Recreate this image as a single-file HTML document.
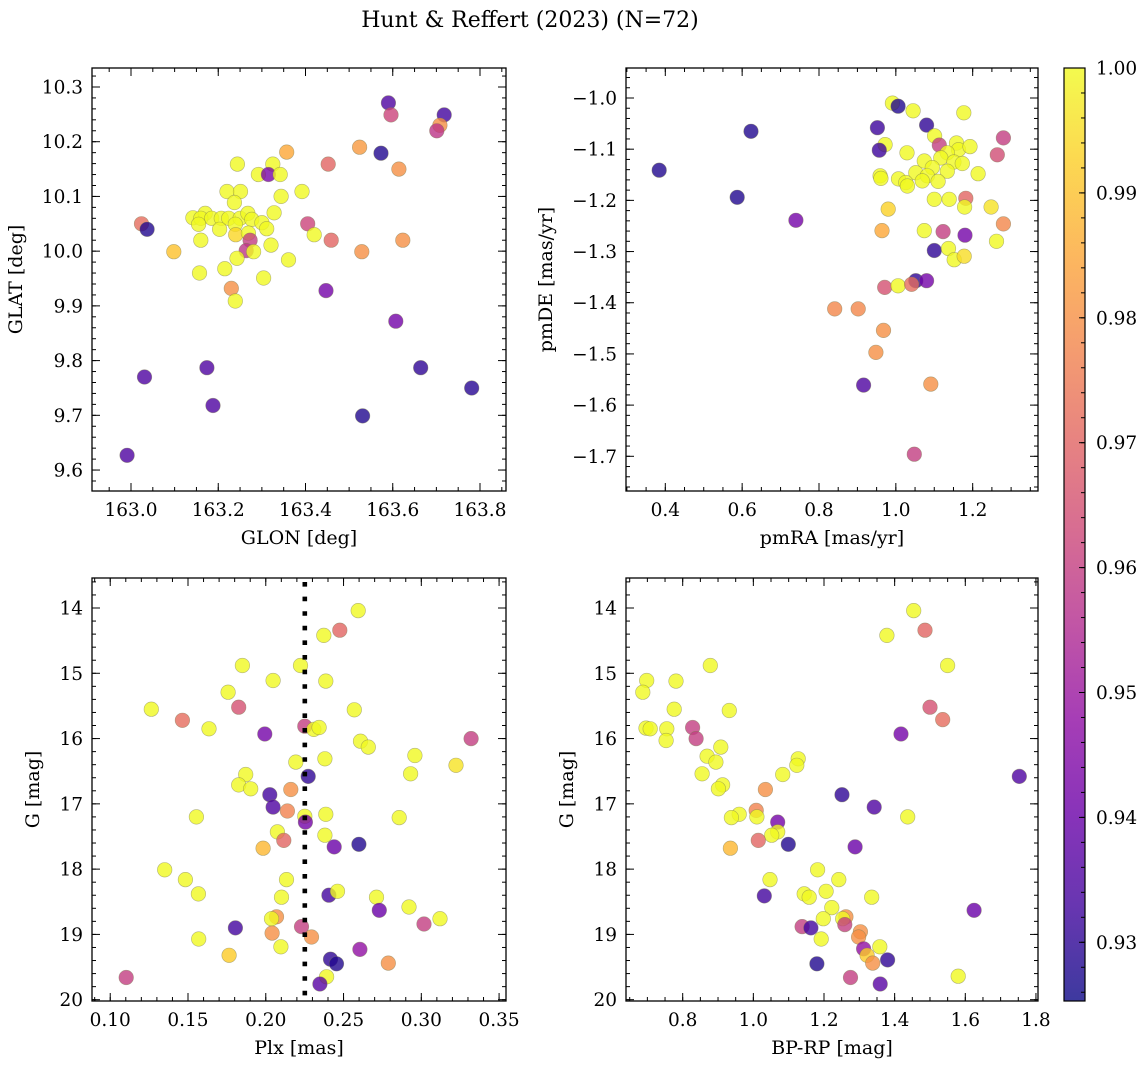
<!DOCTYPE html>
<html><head><meta charset="utf-8"><style>
html,body{margin:0;padding:0;background:#fff;}
svg{display:block;font-family:"DejaVu Serif","Liberation Serif",serif;}
</style></head><body>
<svg id="fig" width="1148" height="1068" viewBox="0 0 1148 1068" xmlns="http://www.w3.org/2000/svg">
<defs>
<linearGradient id="cbgrad" x1="0" y1="1" x2="0" y2="0">
<stop offset="0" stop-color="#0d0887"/><stop offset="0.1" stop-color="#41049d"/><stop offset="0.2" stop-color="#6a00a8"/><stop offset="0.3" stop-color="#8f0da4"/><stop offset="0.4" stop-color="#b12a90"/><stop offset="0.5" stop-color="#cc4778"/><stop offset="0.6" stop-color="#e16462"/><stop offset="0.7" stop-color="#f2844b"/><stop offset="0.8" stop-color="#fca636"/><stop offset="0.9" stop-color="#fcce25"/><stop offset="1" stop-color="#f0f921"/>
</linearGradient>
</defs>
<text x="530" y="27" font-size="22" text-anchor="middle">Hunt &amp; Reffert (2023) (N=72)</text>
<g id="panels"></g>
<g id="colorbar">
<rect x="1064" y="68" width="21" height="933" fill="url(#cbgrad)" fill-opacity="0.8" stroke="#000" stroke-width="1.2"/>
</g>
</svg>
<script>
// ---- Panel A: GLON vs GLAT ----
const glon=[163.590,163.596,163.718,163.708,163.701,163.357,163.524,163.573,163.452,163.614,163.244,163.325,163.292,163.315,163.342,163.220,163.251,163.392,163.344,163.237,163.142,163.170,163.160,163.185,163.207,163.224,163.250,163.268,163.277,163.328,163.300,163.155,163.203,163.239,163.240,163.269,163.311,163.024,163.037,163.405,163.420,163.459,163.623,163.098,163.160,163.273,163.264,163.281,163.321,163.529,163.243,163.361,163.157,163.215,163.304,163.230,163.239,163.447,163.607,163.031,163.174,163.664,163.188,163.781,163.531,162.991];
const glat=[10.271,10.249,10.249,10.230,10.220,10.181,10.190,10.179,10.159,10.150,10.159,10.159,10.140,10.140,10.140,10.109,10.109,10.109,10.100,10.089,10.061,10.069,10.060,10.060,10.060,10.060,10.060,10.069,10.058,10.070,10.052,10.049,10.040,10.049,10.030,10.033,10.041,10.050,10.040,10.050,10.030,10.020,10.020,9.999,10.020,10.020,10.001,9.999,10.011,9.999,9.987,9.984,9.960,9.968,9.951,9.932,9.909,9.928,9.872,9.770,9.787,9.787,9.718,9.750,9.699,9.627];
const probA=[0.935,0.962,0.933,0.98,0.958,0.985,0.982,0.928,0.97,0.98,1,1,1,0.943,1,1,1,1,1,1,1,1,1,1,1,1,1,1,1,1,1,1,1,1,0.994,1,1,0.972,0.928,0.962,1,0.97,0.98,0.99,1,0.96,0.958,1,1,0.98,1,1,1,1,1,0.98,1,0.942,0.942,0.935,0.935,0.93,0.935,0.929,0.928,0.935];
// ---- Panel B: pmRA vs pmDE ----
const pmra=[0.384,0.623,0.587,0.740,0.991,1.006,1.045,1.177,0.952,1.080,0.972,0.957,1.101,1.113,1.280,1.264,1.029,1.158,1.163,1.193,1.134,1.074,1.117,1.151,1.173,1.052,1.095,1.134,1.082,1.069,1.110,1.214,0.959,0.961,1.007,1.026,1.030,1.100,1.139,1.182,1.179,1.248,0.980,1.280,0.964,1.074,1.123,1.180,1.262,1.100,1.137,1.152,1.178,1.052,1.080,0.971,1.006,1.041,0.841,0.902,0.968,0.948,0.916,1.091,1.048];
const pmde=[-1.141,-1.065,-1.194,-1.239,-1.010,-1.016,-1.025,-1.029,-1.058,-1.053,-1.091,-1.102,-1.074,-1.092,-1.078,-1.111,-1.107,-1.088,-1.101,-1.095,-1.107,-1.123,-1.117,-1.125,-1.128,-1.146,-1.136,-1.143,-1.152,-1.162,-1.163,-1.148,-1.152,-1.157,-1.158,-1.165,-1.172,-1.198,-1.198,-1.196,-1.213,-1.213,-1.217,-1.246,-1.259,-1.259,-1.261,-1.268,-1.280,-1.298,-1.294,-1.316,-1.309,-1.357,-1.357,-1.370,-1.367,-1.364,-1.412,-1.412,-1.454,-1.497,-1.561,-1.559,-1.696];
const probB=[0.928,0.928,0.928,0.942,1,0.928,1,1,0.932,0.93,1,0.932,1,0.96,0.96,0.964,1,1,1,1,1,1,1,1,1,1,1,1,1,1,1,1,1,1,1,1,1,1,1,0.97,1,0.996,0.993,0.978,0.985,1,0.96,0.942,1,0.93,1,1,0.995,0.93,0.942,0.965,1,0.972,0.978,0.978,0.98,0.98,0.935,0.98,0.96];
// ---- Panel C: Plx vs G ----
const plx=[0.2594,0.2476,0.2373,0.1850,0.2223,0.2047,0.2386,0.1758,0.1264,0.1826,0.2569,0.1464,0.1635,0.1994,0.2251,0.2309,0.2343,0.2609,0.2659,0.3320,0.2959,0.3223,0.2193,0.2380,0.1871,0.2931,0.2273,0.1826,0.1903,0.2161,0.2026,0.2047,0.2139,0.1554,0.2251,0.2255,0.2386,0.2858,0.2075,0.2116,0.2380,0.2440,0.2599,0.1983,0.1350,0.1483,0.2133,0.1567,0.2101,0.2406,0.2461,0.2712,0.2730,0.2921,0.2069,0.2037,0.3120,0.3017,0.1805,0.2230,0.2041,0.2294,0.1569,0.2097,0.2605,0.1764,0.2416,0.2455,0.2788,0.1103,0.2391,0.2348];
const gmagC=[14.04,14.34,14.42,14.88,14.88,15.11,15.12,15.29,15.55,15.52,15.56,15.72,15.85,15.93,15.81,15.86,15.83,16.04,16.13,16.00,16.26,16.41,16.36,16.31,16.55,16.54,16.58,16.71,16.77,16.78,16.86,17.05,17.11,17.20,17.19,17.28,17.16,17.21,17.43,17.56,17.48,17.66,17.62,17.68,18.01,18.16,18.16,18.38,18.43,18.40,18.34,18.43,18.63,18.58,18.73,18.76,18.76,18.84,18.90,18.88,18.98,19.04,19.07,19.19,19.23,19.32,19.38,19.45,19.44,19.66,19.65,19.76];
const probC=[1,0.97,1,1,1,1,1,1,1,0.965,1,0.972,1,0.942,0.96,1,1,1,1,0.96,1,0.996,1,1,1,1,0.93,1,1,0.98,0.933,0.935,0.977,1,1,0.942,1,1,1,0.97,1,0.94,0.928,0.988,1,1,1,1,1,0.933,1,1,0.94,1,0.98,1,1,0.96,0.933,0.96,0.98,0.98,1,1,0.948,0.992,0.93,0.928,0.98,0.96,1,0.937];
const plxRef=[0.2251];
// ---- Panel D: BP-RP vs G ----
const bprp=[1.454,1.486,1.378,0.878,1.550,0.698,0.781,0.687,0.776,0.932,1.500,1.536,0.696,0.708,0.755,0.828,0.838,0.753,1.418,0.908,0.869,0.894,1.127,1.123,0.855,1.083,0.913,0.901,1.034,1.753,1.251,1.342,1.008,0.960,0.938,1.010,1.437,1.069,1.069,1.052,1.014,1.099,1.288,0.935,1.182,1.047,1.242,1.206,1.144,1.158,1.031,1.335,1.625,1.222,1.262,1.253,1.198,1.259,1.138,1.163,1.303,1.298,1.192,1.312,1.358,1.322,1.338,1.380,1.180,1.275,1.580,1.359];
const gmagD=[14.04,14.34,14.42,14.88,14.88,15.11,15.12,15.29,15.55,15.57,15.52,15.71,15.84,15.85,15.85,15.83,16.00,16.03,15.93,16.13,16.27,16.36,16.31,16.41,16.54,16.55,16.71,16.77,16.78,16.58,16.86,17.05,17.10,17.16,17.21,17.20,17.20,17.28,17.43,17.48,17.56,17.62,17.66,17.68,18.01,18.16,18.16,18.34,18.38,18.43,18.41,18.43,18.63,18.59,18.73,18.76,18.76,18.85,18.88,18.90,18.96,19.04,19.07,19.22,19.19,19.32,19.44,19.39,19.45,19.66,19.64,19.76];
const probD=[1,0.97,1,1,1,1,1,1,1,1,0.965,0.972,1,1,1,0.96,0.96,1,0.942,1,1,1,1,1,1,1,1,1,0.98,0.935,0.93,0.935,0.977,1,1,1,1,0.942,1,1,0.97,0.928,0.94,0.988,1,1,1,1,1,1,0.933,1,0.94,1,0.98,1,1,0.96,0.96,0.933,0.98,0.98,1,0.948,1,0.992,0.98,0.93,0.928,0.96,1,0.937];
// ---- Colorbar ----
const cbTicks=[0.93,0.94,0.95,0.96,0.97,0.98,0.99,1.00];
const cbDomain=[0.9253,1.0];

const NS="http://www.w3.org/2000/svg";
const plasma=[[13,8,135],[65,4,157],[106,0,168],[143,13,164],[177,42,144],[204,71,120],[225,100,98],[242,132,75],[252,166,54],[252,206,37],[240,249,33]];
function cmap(v){
  let t=(v-cbDomain[0])/(cbDomain[1]-cbDomain[0]);t=Math.max(0,Math.min(1,t));
  const f=t*10,i=Math.min(9,Math.floor(f)),r=f-i,a=plasma[i],b=plasma[i+1];
  return 'rgb('+a.map((c,k)=>Math.round(c+(b[k]-c)*r)).join(',')+')';
}
function mk(tag,attrs,parent){const e=document.createElementNS(NS,tag);for(const k in attrs)e.setAttribute(k,attrs[k]);parent.appendChild(e);return e;}
function lin(d0,d1,r0,r1){return v=>r0+(v-d0)/(d1-d0)*(r1-r0);}
function range(a,b,s){const o=[];for(let v=a;v<=b+s*1e-6;v+=s)o.push(+v.toFixed(6));return o;}
const root=document.getElementById('panels');

function panel(cfg){
  const g=mk('g',{},root);
  
  
  const {x0,x1,y0,y1}=cfg;
  const sx=lin(cfg.xd[0],cfg.xd[1],x0,x1), sy=lin(cfg.yd[0],cfg.yd[1],y0,y1);
  const pts=mk('g',{},g);
  
  
  cfg.xs.forEach((xv,i)=>{
    const c=mk('circle',{cx:sx(xv).toFixed(1),cy:sy(cfg.ys[i]).toFixed(1),r:7.3,fill:cmap(cfg.cs[i]),'fill-opacity':0.8,stroke:'#7a7a50','stroke-opacity':0.55,'stroke-width':0.6},pts);
    
    
  });
  if(cfg.vline){cfg.vline.forEach(v=>{
    const l=mk('line',{x1:sx(v),x2:sx(v),y1:y0+4,y2:y1,stroke:'#000','stroke-width':4.6,'stroke-dasharray':'4.6 10'},g);
    
    
  });}
  const ax=mk('g',{stroke:'#000','stroke-width':1},g);
  
  
  cfg.xmin.forEach(v=>{const p=sx(v);if(p<x0||p>x1)return;mk('line',{x1:p,x2:p,y1:y1,y2:y1-4},ax);mk('line',{x1:p,x2:p,y1:y0,y2:y0+4},ax);});
  cfg.ymin.forEach(v=>{const p=sy(v);if(p<y0||p>y1)return;mk('line',{x1:x0,x2:x0+4,y1:p,y2:p},ax);mk('line',{x1:x1,x2:x1-4,y1:p,y2:p},ax);});
  cfg.xmaj.forEach(v=>{const p=sx(v);mk('line',{x1:p,x2:p,y1:y1,y2:y1-8},ax);mk('line',{x1:p,x2:p,y1:y0,y2:y0+8},ax);
    const t=mk('text',{x:p,y:y1+25,'font-size':18.5,'text-anchor':'middle',stroke:'none',fill:'#000'},g);t.textContent=v.toFixed(cfg.xdec);
    
    });
  cfg.ymaj.forEach(v=>{const p=sy(v);mk('line',{x1:x0,x2:x0+8,y1:p,y2:p},ax);mk('line',{x1:x1,x2:x1-8,y1:p,y2:p},ax);
    const t=mk('text',{x:x0-9,y:p+6.5,'font-size':18.5,'text-anchor':'end',fill:'#000'},g);t.textContent=(v<0?'\u2212':'')+Math.abs(v).toFixed(cfg.ydec);
    
    });
  mk('rect',{x:x0,y:y0,width:x1-x0,height:y1-y0,fill:'none',stroke:'#000','stroke-width':1.3},ax);
  const xl=mk('text',{x:(x0+x1)/2,y:y1+53,'font-size':19,'text-anchor':'middle'},g);xl.textContent=cfg.xlabel;
  
  
  const yc=(y0+y1)/2;
  const yl=mk('text',{x:cfg.ylx,y:yc,'font-size':19,'text-anchor':'middle',transform:'rotate(-90 '+cfg.ylx+' '+yc+')'},g);yl.textContent=cfg.ylabel;
  
  
}

panel({name:'glon-glat-panel',x0:92,x1:506,y0:68,y1:491,xd:[162.9106,163.8596],yd:[10.3347,9.5617],xs:glon,ys:glat,cs:probA,
  xmaj:range(163.0,163.8,0.2),xmin:range(162.9,163.85,0.05),ymaj:range(9.6,10.3,0.1),ymin:range(9.56,10.34,0.02),xdec:1,ydec:1,xlabel:'GLON [deg]',ylabel:'GLAT [deg]',ylx:22});
panel({name:'pmra-pmde-panel',x0:626,x1:1038,y0:68,y1:491,xd:[0.2977,1.370],yd:[-0.9414,-1.7678],xs:pmra,ys:pmde,cs:probB,
  xmaj:range(0.4,1.2,0.2),xmin:range(0.3,1.35,0.05),ymaj:range(-1.7,-1.0,0.1),ymin:range(-1.76,-0.94,0.02),xdec:1,ydec:1,xlabel:'pmRA [mas/yr]',ylabel:'pmDE [mas/yr]',ylx:552});
panel({name:'plx-g-panel',x0:92,x1:506,y0:578,y1:1001,xd:[0.08828,0.35445],yd:[13.5404,20.02],xs:plx,ys:gmagC,cs:probC,vline:plxRef,
  xmaj:range(0.10,0.35,0.05),xmin:range(0.09,0.35,0.01),ymaj:range(14,20,1),ymin:range(13.6,20,0.2),xdec:2,ydec:0,xlabel:'Plx [mas]',ylabel:'G [mag]',ylx:39});
panel({name:'bprp-g-panel',x0:626,x1:1038,y0:578,y1:1001,xd:[0.6395,1.8058],yd:[13.5404,20.02],xs:bprp,ys:gmagD,cs:probD,
  xmaj:range(0.8,1.8,0.2),xmin:range(0.65,1.8,0.05),ymaj:range(14,20,1),ymin:range(13.6,20,0.2),xdec:1,ydec:0,xlabel:'BP-RP [mag]',ylabel:'G [mag]',ylx:573});

// colorbar ticks
const cb=document.getElementById('colorbar');
const cy=lin(cbDomain[0],cbDomain[1],1001,68);
range(0.926,1.0,0.002).forEach(v=>{const p=cy(v);if(p<68||p>1001)return;mk('line',{x1:1085,x2:1081,y1:p,y2:p,stroke:'#000','stroke-width':1},cb);});
cbTicks.forEach(v=>{const p=cy(v);mk('line',{x1:1085,x2:1079,y1:p,y2:p,stroke:'#000','stroke-width':1},cb);
  const t=mk('text',{x:1096,y:p+6.5,'font-size':18.5},cb);t.textContent=v.toFixed(2);
  
  });
</script>
</body></html>
